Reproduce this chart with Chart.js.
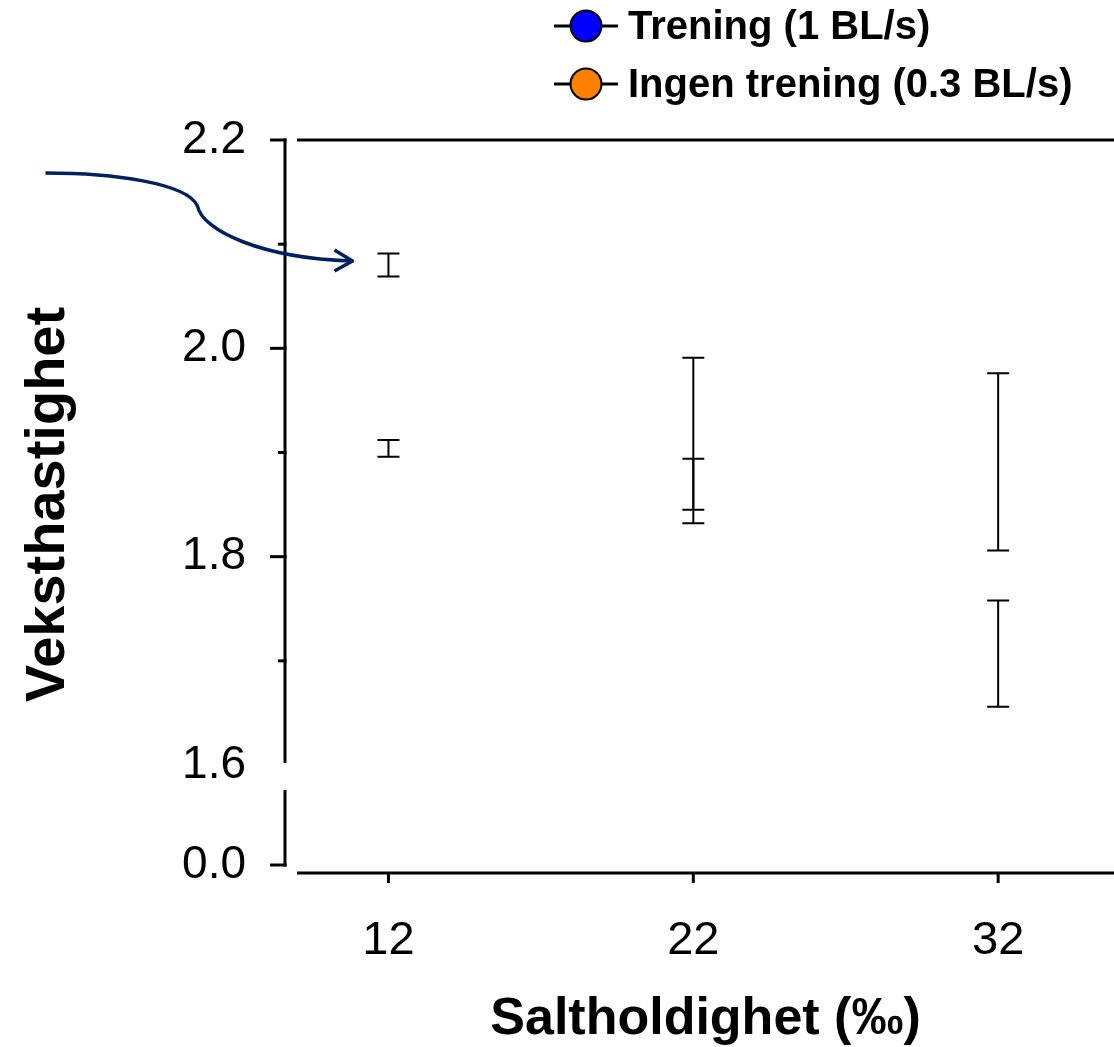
<!DOCTYPE html>
<html lang="no">
<head>
  <meta charset="UTF-8" />
  <title>Veksthastighet og saltholdighet</title>
  <script src="https://cdn.jsdelivr.net/npm/chart.js@4.4.1/dist/chart.umd.min.js"></script>
  <style>
    * { box-sizing: border-box; margin: 0; padding: 0; }
    body { background: #fff; width: 1114px; height: 1047px; overflow: hidden; }
    canvas { display: block; }
  </style>
</head>
<body>
  <canvas id="growthChart" width="1114" height="1047"></canvas>

  <script>
    // Data: mean growth rate +/- error per salinity
    const salinity = [12, 22, 32];
    const treningMean = [2.080, 1.918, 1.891];
    const treningErr = [0.011, 0.073, 0.085];
    const ingenMean = [1.904, 1.863, 1.707];
    const ingenErr = [0.008, 0.031, 0.051];
    const seriesLabels = ['Trening (1 BL/s)', 'Ingen trening (0.3 BL/s)'];
    const seriesColors = ['#0000ff', '#ff8000'];

    // Ticks
    const xTicks = [12, 22, 32];
    const upperTicks = [1.6, 1.7, 1.8, 1.9, 2.0, 2.1, 2.2];
    const upperLabelled = [1.6, 1.8, 2.0, 2.2];
    const lowerTicks = [0.0];
    const lowerAxisTop = 0.3;   // where the lower axis segment stops (y0 scale)

    const FONT = 'Arial, "Liberation Sans", sans-serif';

    const toPoints = (means, errs) => salinity.map((s, i) => ({ x: s, y: means[i], err: errs[i] }));

    // draws the broken axes, error bars, arrow, legend and y title
    const decorations = {
      id: 'decorations',
      afterDraw(chart) {
        const { ctx, chartArea, scales } = chart;
        const x = scales.x, y = scales.y, y0 = scales.y0;
        const axisX = chartArea.left - 12;
        ctx.save();
        ctx.strokeStyle = '#000';
        ctx.lineCap = 'butt';

        // upper y segment
        ctx.lineWidth = 3;
        ctx.beginPath();
        ctx.moveTo(axisX, y.getPixelForValue(y.max) - 1.5);
        ctx.lineTo(axisX, y.getPixelForValue(y.min) - 2);
        ctx.stroke();
        y.ticks.forEach(t => {
          if (t.value === y.min) return;
          const py = y.getPixelForValue(t.value);
          const len = upperLabelled.includes(t.value) ? 15 : 7;
          ctx.beginPath();
          ctx.moveTo(axisX - len, py);
          ctx.lineTo(axisX + 1.5, py);
          ctx.stroke();
        });

        // lower y segment
        ctx.beginPath();
        ctx.moveTo(axisX, y0.getPixelForValue(lowerAxisTop));
        ctx.lineTo(axisX, y0.getPixelForValue(0) + 1.5);
        ctx.stroke();
        y0.ticks.forEach(t => {
          const py = y0.getPixelForValue(t.value);
          ctx.beginPath();
          ctx.moveTo(axisX - 15, py);
          ctx.lineTo(axisX + 1.5, py);
          ctx.stroke();
        });

        // top frame line
        const topY = y.getPixelForValue(y.max);
        ctx.beginPath();
        ctx.moveTo(chartArea.left, topY);
        ctx.lineTo(chartArea.right, topY);
        ctx.stroke();

        // x axis, offset below the plot
        const axisY = chartArea.bottom + 8;
        ctx.beginPath();
        ctx.moveTo(chartArea.left, axisY);
        ctx.lineTo(chartArea.right, axisY);
        ctx.stroke();
        x.ticks.forEach(t => {
          const px = x.getPixelForValue(t.value);
          ctx.beginPath();
          ctx.moveTo(px, axisY);
          ctx.lineTo(px, axisY + 10);
          ctx.stroke();
        });

        // error bars
        ctx.lineWidth = 2;
        chart.data.datasets.forEach(ds => {
          ds.data.forEach(p => {
            const px = x.getPixelForValue(p.x);
            const hi = y.getPixelForValue(p.y + p.err);
            const lo = y.getPixelForValue(p.y - p.err);
            ctx.beginPath();
            ctx.moveTo(px, hi); ctx.lineTo(px, lo);
            ctx.moveTo(px - 11, hi); ctx.lineTo(px + 11, hi);
            ctx.moveTo(px - 11, lo); ctx.lineTo(px + 11, lo);
            ctx.stroke();
          });
        });

        // arrow pointing at the first Trening bar
        const tx = x.getPixelForValue(salinity[0]) - 36;
        const ty = y.getPixelForValue(treningMean[0]) - 4;
        ctx.strokeStyle = '#002060';
        ctx.lineWidth = 3.5;
        ctx.lineJoin = 'round';
        ctx.beginPath();
        ctx.moveTo(tx - 307, ty - 88);
        ctx.bezierCurveTo(tx - 240, ty - 88, tx - 165, ty - 78, tx - 155, ty - 55);
        ctx.bezierCurveTo(tx - 150, ty - 30, tx - 90, ty - 3, tx - 2, ty);
        ctx.stroke();
        ctx.beginPath();
        ctx.moveTo(tx - 18, ty - 11);
        ctx.lineTo(tx, ty);
        ctx.lineTo(tx - 18, ty + 10);
        ctx.stroke();

        // legend
        const lx = 554, ly = 26, gap = 58;
        chart.data.datasets.forEach((ds, i) => {
          const cy = ly + i * gap;
          ctx.strokeStyle = '#000';
          ctx.lineWidth = 3;
          ctx.beginPath();
          ctx.moveTo(lx, cy); ctx.lineTo(lx + 64, cy);
          ctx.stroke();
          ctx.beginPath();
          ctx.arc(lx + 32, cy, 15.5, 0, Math.PI * 2);
          ctx.fillStyle = ds.pointBackgroundColor;
          ctx.fill();
          ctx.lineWidth = 2;
          ctx.stroke();
          ctx.fillStyle = '#000';
          ctx.font = 'bold 40px ' + FONT;
          ctx.textBaseline = 'middle';
          ctx.textAlign = 'left';
          ctx.fillText(ds.label, lx + 74, cy + 2);
        });

        // y title centred over both axis segments
        ctx.save();
        ctx.translate(64, (chartArea.top + chartArea.bottom) / 2 + 2);
        ctx.rotate(-Math.PI / 2);
        ctx.font = 'bold 56px ' + FONT;
        ctx.textAlign = 'center';
        ctx.textBaseline = 'alphabetic';
        ctx.fillStyle = '#000';
        ctx.fillText('Veksthastighet', 0, 0);
        ctx.restore();

        ctx.restore();
      }
    };

    const ctx = document.getElementById('growthChart').getContext('2d');

    new Chart(ctx, {
      type: 'line',
      data: {
        datasets: [
          {
            label: seriesLabels[0],
            data: toPoints(treningMean, treningErr),
            showLine: false,
            pointRadius: 0,
            pointBackgroundColor: seriesColors[0],
            borderColor: '#000',
            yAxisID: 'y'
          },
          {
            label: seriesLabels[1],
            data: toPoints(ingenMean, ingenErr),
            showLine: false,
            pointRadius: 0,
            pointBackgroundColor: seriesColors[1],
            borderColor: '#000',
            yAxisID: 'y'
          }
        ]
      },
      options: {
        responsive: false,
        animation: false,
        events: [],
        layout: { padding: { top: 140, left: 0, right: 0, bottom: 0 } },
        plugins: {
          legend: { display: false },
          tooltip: { enabled: false }
        },
        scales: {
          x: {
            type: 'linear',
            position: 'bottom',
            min: 9,
            max: 35.8,
            grid: { display: false, drawTicks: false },
            border: { display: false },
            afterBuildTicks: s => { s.ticks = xTicks.map(v => ({ value: v })); },
            afterFit: s => { s.height = 182; },
            ticks: {
              autoSkip: false,
              maxRotation: 0,
              padding: 48,
              color: '#000',
              font: { family: FONT, size: 47 },
              callback: v => String(v)
            },
            title: {
              display: true,
              text: 'Saltholdighet (‰)',
              color: '#000',
              font: { family: FONT, size: 52, weight: 'bold' },
              padding: { top: 0, bottom: -4 }
            }
          },
          // the lower segment is listed first so that it is stacked below
          y0: {
            type: 'linear',
            position: 'left',
            stack: 'v',
            stackWeight: 100,
            min: 0,
            max: 0.4,
            grid: { display: false, drawTicks: false },
            border: { display: false },
            afterBuildTicks: s => { s.ticks = lowerTicks.map(v => ({ value: v })); },
            afterFit: s => { s.width = 297; },
            ticks: {
              autoSkip: false,
              padding: 51,
              color: '#000',
              font: { family: FONT, size: 46 },
              callback: v => v.toFixed(1)
            }
          },
          y: {
            type: 'linear',
            position: 'left',
            stack: 'v',
            stackWeight: 625,
            min: 1.6,
            max: 2.2,
            grid: { display: false, drawTicks: false },
            border: { display: false },
            afterBuildTicks: s => { s.ticks = upperTicks.map(v => ({ value: v })); },
            afterFit: s => { s.width = 297; },
            ticks: {
              autoSkip: false,
              padding: 51,
              color: '#000',
              font: { family: FONT, size: 46 },
              callback: v => upperLabelled.includes(v) ? v.toFixed(1) : ''
            }
          }
        }
      },
      plugins: [decorations]
    });
  </script>
</body>
</html>
